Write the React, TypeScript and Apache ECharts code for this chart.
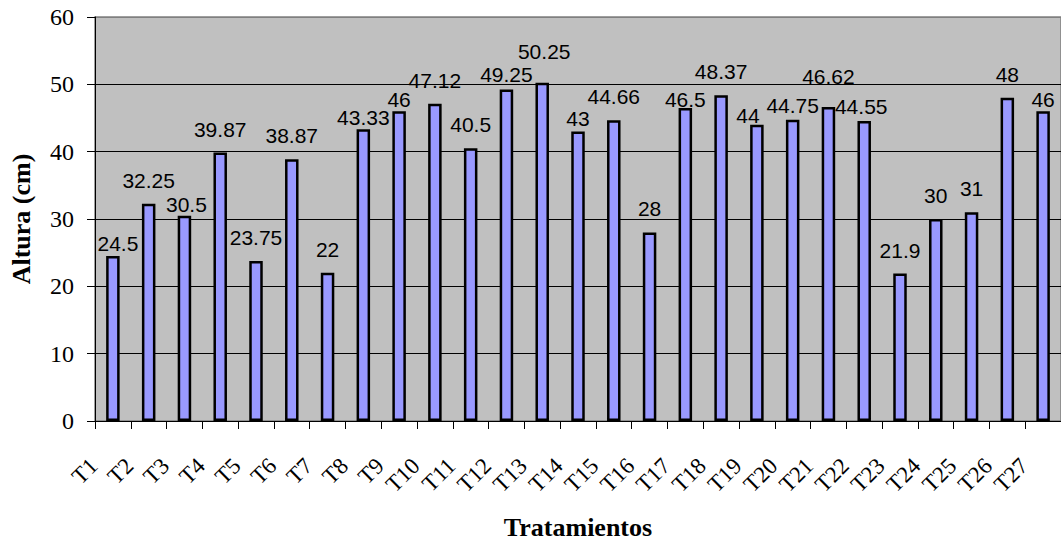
import React, { useEffect, useRef } from "react";
import * as echarts from "echarts";

// Tratamientos y altura media de las plantas (cm)
const categories = [
  "T1", "T2", "T3", "T4", "T5", "T6", "T7", "T8", "T9", "T10",
  "T11", "T12", "T13", "T14", "T15", "T16", "T17", "T18", "T19", "T20",
  "T21", "T22", "T23", "T24", "T25", "T26", "T27",
];

const alturas = [
  24.5, 32.25, 30.5, 39.87, 23.75, 38.87, 22, 43.33, 46, 47.12,
  40.5, 49.25, 50.25, 43, 44.66, 28, 46.5, 48.37, 44, 44.75,
  46.62, 44.55, 21.9, 30, 31, 48, 46,
];

const yTicks = [0, 10, 20, 30, 40, 50, 60];

// hand-placed nudges [dx, dy] for value labels that were moved to avoid overlaps
const labelNudges: [number, number][] = [
  [5, 11], [0, 0], [2, 12], [0, 0], [0, 0], [0, 0], [0, 0], [0, 12], [0, 12], [0, 0],
  [0, 0], [0, 9], [2, -8], [0, 11], [0, 0], [0, 0], [0, 15], [0, 0], [-9, 14], [0, 9],
  [0, -7], [-3, 9], [0, 0], [0, 0], [0, 0], [0, 0], [0, 12],
];

const SERIF = "Liberation Serif";
const SANS = "Liberation Sans";

export default function App() {
  const ref = useRef<HTMLDivElement>(null);

  useEffect(() => {
    if (!ref.current) return;
    const chart = echarts.init(ref.current, undefined, { renderer: "svg" });

    const splitColors = yTicks.map((t, i) =>
      i === yTicks.length - 1 ? "#808080" : "#000000"
    );

    chart.setOption({
      animation: false,
      backgroundColor: "#ffffff",
      grid: {
        left: 95,
        right: -2,
        top: 17,
        bottom: 120,
        show: true,
        backgroundColor: "#c0c0c0",
        borderColor: "#808080",
        borderWidth: 1.5,
      },
      xAxis: {
        type: "category",
        data: categories,
        boundaryGap: true,
        name: "Tratamientos",
        nameLocation: "middle",
        nameGap: 93,
        nameTextStyle: {
          fontFamily: SERIF,
          fontWeight: "bold",
          fontSize: 26,
          color: "#000",
        },
        axisLine: { show: true, lineStyle: { color: "#000", width: 1 } },
        axisTick: {
          show: true,
          alignWithLabel: false,
          interval: 0,
          length: 8,
          lineStyle: { color: "#000", width: 1 },
        },
        axisLabel: {
          interval: 0,
          rotate: 45,
          margin: 22,
          padding: [0, 27, 0, 0],
          fontFamily: SERIF,
          fontSize: 23,
          color: "#000",
        },
        splitLine: { show: false },
      },
      yAxis: {
        type: "value",
        min: yTicks[0],
        max: yTicks[yTicks.length - 1],
        interval: 10,
        name: "Altura (cm)",
        nameLocation: "middle",
        nameGap: 61,
        nameTextStyle: {
          fontFamily: SERIF,
          fontWeight: "bold",
          fontSize: 26,
          color: "#000",
        },
        axisLine: { show: true, lineStyle: { color: "#000", width: 1 } },
        axisTick: { show: true, length: 8, lineStyle: { color: "#000", width: 1 } },
        axisLabel: {
          margin: 21,
          fontFamily: SERIF,
          fontSize: 24,
          color: "#000",
        },
        splitLine: {
          show: true,
          lineStyle: { color: splitColors, width: 1 },
        },
      },
      series: [
        {
          type: "bar",
          barWidth: 13.5,
          data: alturas.map((v, i) => ({
            value: v,
            label: { offset: labelNudges[i] },
          })),
          itemStyle: {
            color: "#9999ff",
            borderColor: "#000000",
            borderWidth: 2.5,
          },
          label: {
            show: true,
            position: "top",
            distance: 13,
            fontFamily: SANS,
            fontSize: 21,
            color: "#000",
          },
        },
      ],
    });

    return () => chart.dispose();
  }, []);

  return (
    <div
      ref={ref}
      style={{ position: "absolute", left: 0, top: 0, width: 1061, height: 545 }}
    />
  );
}
